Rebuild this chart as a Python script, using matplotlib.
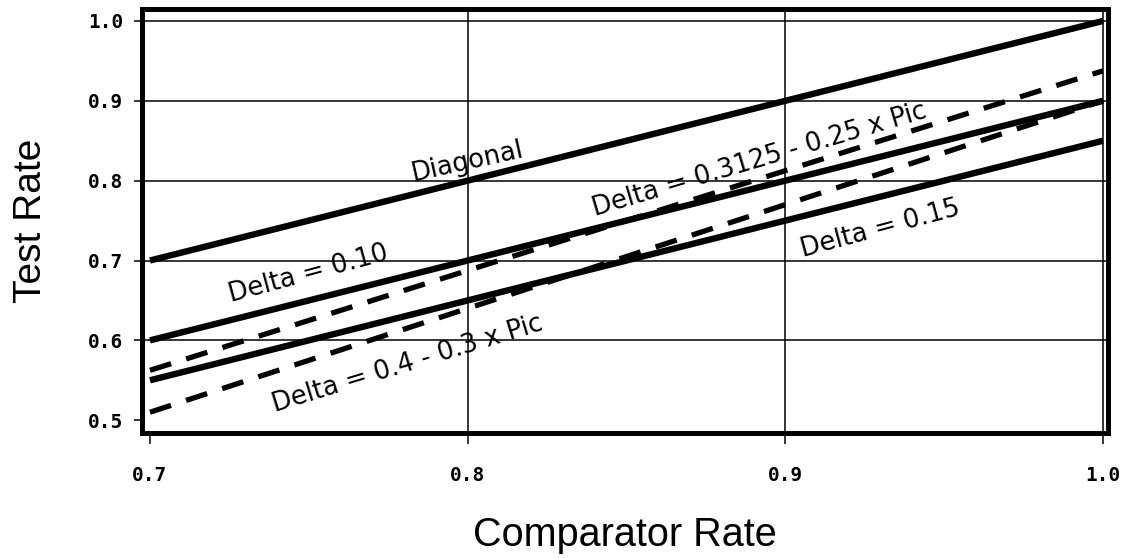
import matplotlib
matplotlib.use("Agg")
import matplotlib.pyplot as plt

# ---- data ----
comparator = [0.7, 1.0]
diagonal = [0.70, 1.00]
delta_010 = [0.60, 0.90]
delta_015 = [0.55, 0.85]
delta_3125 = [0.5625, 0.9375]
delta_04 = [0.51, 0.90]

x_ticks = [0.7, 0.8, 0.9, 1.0]
y_ticks = [0.5, 0.6, 0.7, 0.8, 0.9, 1.0]
x_tick_labels = ["0.7", "0.8", "0.9", "1.0"]
y_tick_labels = ["0.5", "0.6", "0.7", "0.8", "0.9", "1.0"]

labels = ["Diagonal", "Delta = 0.10", "Delta = 0.15",
          "Delta = 0.3125 - 0.25 x Pic", "Delta = 0.4 - 0.3 x Pic"]
label_x = [0.800, 0.750, 0.930, 0.892, 0.781]
label_y = [0.824, 0.683, 0.739, 0.826, 0.570]
label_rot = [12.5, 15, 15, 16.5, 17]

W, H = 1126, 558
fig = plt.figure(figsize=(W / 100, H / 100), dpi=100)
ax = fig.add_axes([142 / W, 1 - 433 / H, (1108 - 142) / W, (433 - 9) / H])

ax.set_xlim(0.6975, 1.0016)
ax.set_ylim(0.484, 1.015)

solid_lw = 4.6
dash_lw = 3.8
ax.plot(comparator, diagonal, color="black", lw=solid_lw, solid_capstyle="butt", zorder=3)
ax.plot(comparator, delta_010, color="black", lw=solid_lw, solid_capstyle="butt", zorder=3)
ax.plot(comparator, delta_015, color="black", lw=solid_lw, solid_capstyle="butt", zorder=3)
ax.plot(comparator, delta_3125, color="black", lw=dash_lw, dashes=(4.2, 3.0), zorder=3)
ax.plot(comparator, delta_04, color="black", lw=dash_lw, dashes=(4.2, 3.0), zorder=3)

for t, x, y, r in zip(labels, label_x, label_y, label_rot):
    ax.text(x, y, t, rotation=r, rotation_mode="anchor", ha="center", va="center",
            fontsize=18.5, family="DejaVu Sans", color="black", zorder=4)

ax.set_xticks(x_ticks)
ax.set_xticklabels(x_tick_labels, family="DejaVu Sans Mono", fontweight="bold", fontsize=14)
ax.set_yticks(y_ticks)
ax.set_yticklabels(y_tick_labels, family="DejaVu Sans Mono", fontweight="bold", fontsize=14)
ax.tick_params(axis="x", direction="out", length=8, width=1.1, pad=16, colors="black")
ax.tick_params(axis="y", direction="out", length=5.5, width=1.1, pad=8, colors="black")

ax.grid(True, color="black", lw=1.1, zorder=1)
ax.get_xgridlines()[0].set_visible(False)
ax.get_ygridlines()[0].set_visible(False)
ax.set_axisbelow(True)

for s in ax.spines.values():
    s.set_linewidth(3.6)
    s.set_color("black")

ax.set_xlabel("Comparator Rate", family="Liberation Sans", fontsize=28.5, labelpad=22)
ax.set_ylabel("Test Rate", family="Liberation Sans", fontsize=28, labelpad=28)

fig.savefig("out.png", dpi=100)
